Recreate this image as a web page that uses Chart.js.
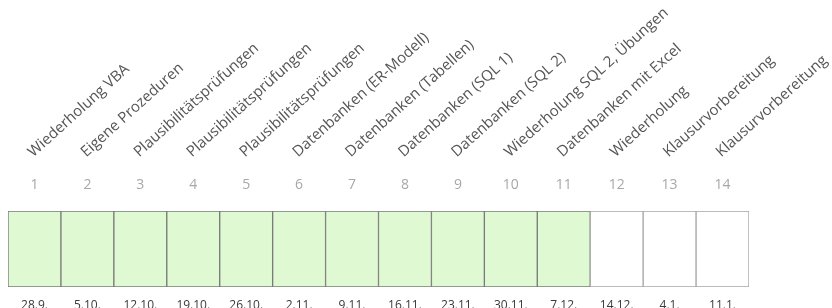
<!DOCTYPE html>
<html>
<head>
<meta charset="utf-8">
<script src="https://cdn.jsdelivr.net/npm/chart.js@4.4.1/dist/chart.umd.min.js"></script>
<style>
  html, body { margin: 0; padding: 0; background: #fff; }
  #wrap { width: 832px; height: 308px; position: relative; }
</style>
</head>
<body>
<div id="wrap"><canvas id="plan"></canvas></div>
<script>
// Semesterplan data
const weeks = ['1', '2', '3', '4', '5', '6', '7', '8', '9', '10', '11', '12', '13', '14'];
const topics = [
  'Wiederholung VBA',
  'Eigene Prozeduren',
  'Plausibilitätsprüfungen',
  'Plausibilitätsprüfungen',
  'Plausibilitätsprüfungen',
  'Datenbanken (ER-Modell)',
  'Datenbanken (Tabellen)',
  'Datenbanken (SQL 1)',
  'Datenbanken (SQL 2)',
  'Wiederholung SQL 2, Übungen',
  'Datenbanken mit Excel',
  'Wiederholung',
  'Klausurvorbereitung',
  'Klausurvorbereitung'
];
const dates = ['28.9.', '5.10.', '12.10.', '19.10.', '26.10.', '2.11.', '9.11.', '16.11.', '23.11.', '30.11.', '7.12.', '14.12.', '4.1.', '11.1.'];
const done = [1, 1, 1, 1, 1, 1, 1, 1, 1, 1, 1, 0, 0, 0];

const FONT = "'Open Sans', sans-serif";

// keep the rotated labels from squeezing the plot area
function noSidePadding(scale) {
  scale.paddingLeft = 0;
  scale.paddingRight = 0;
}

new Chart(document.getElementById('plan'), {
  type: 'bar',
  data: {
    labels: weeks,
    datasets: [{
      data: weeks.map(() => 1),
      backgroundColor: done.map(d => d ? '#dff9d3' : '#ffffff'),
      borderColor: done.map(d => d ? '#7a7a7a' : '#a5a5a5'),
      borderWidth: 1,
      borderSkipped: false,
      barPercentage: 1,
      categoryPercentage: 1,
      xAxisID: 'x'
    }]
  },
  options: {
    responsive: true,
    maintainAspectRatio: false,
    animation: false,
    layout: { padding: { left: 8, right: 83, top: 0, bottom: 0 } },
    plugins: { legend: { display: false }, tooltip: { enabled: false } },
    scales: {
      y: { display: false, min: 0, max: 1 },
      x: {
        position: 'top',
        weight: 0,
        grid: { display: false },
        border: { display: false },
        ticks: { color: '#a8a8a8', font: { family: FONT, size: 14 }, padding: 10, maxRotation: 0 },
        afterFit(scale) { noSidePadding(scale); scale.height = 40; }
      },
      topics: {
        type: 'category',
        labels: topics,
        position: 'top',
        weight: 1,
        offset: true,
        grid: { display: false },
        border: { display: false },
        ticks: {
          color: '#555',
          font: { family: FONT, size: 15 },
          minRotation: 42,
          maxRotation: 42,
          padding: 2,
          labelOffset: 8,
          autoSkip: false
        },
        afterFit(scale) { noSidePadding(scale); scale.height = 171; }
      },
      dates: {
        type: 'category',
        labels: dates,
        position: 'bottom',
        offset: true,
        grid: { display: false },
        border: { display: false },
        ticks: { color: '#3a3a3a', font: { family: FONT, size: 12 }, padding: 3, maxRotation: 0, autoSkip: false },
        afterFit(scale) { noSidePadding(scale); scale.height = 21; }
      }
    }
  }
});
</script>
</body>
</html>
